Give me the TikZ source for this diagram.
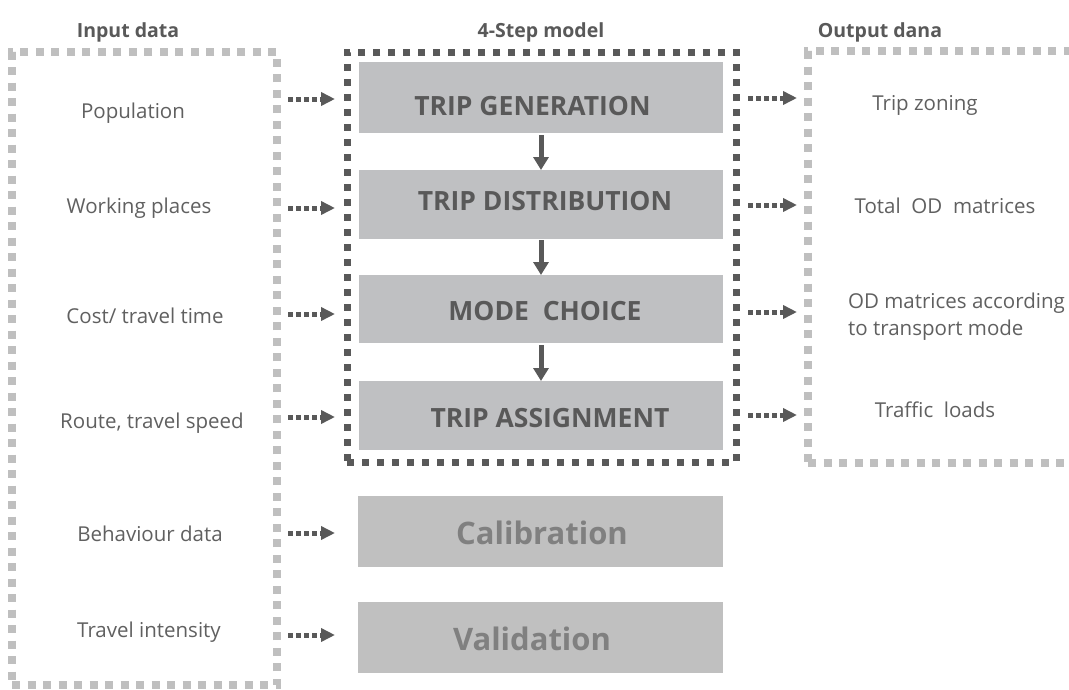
\documentclass[tikz,border=0pt]{standalone}
\usepackage{fontspec}
\setmainfont{Open Sans}
\usetikzlibrary{arrows.meta}
\definecolor{lightdot}{HTML}{BFBFBF}
\definecolor{darkdot}{HTML}{595959}
\definecolor{boxfill}{HTML}{BFC0C2}
\definecolor{calfill}{HTML}{C0C0C0}
\definecolor{txt}{HTML}{606060}
\definecolor{boldtxt}{HTML}{595959}
\definecolor{caltxt}{HTML}{808080}
\begin{document}
\begin{tikzpicture}[x=1pt,y=-1pt,
  lightframe/.style={draw=lightdot, line width=8pt, dash pattern=on 8pt off 7.5pt, fill=none, inner sep=0pt, outer sep=0pt},
  darkframe/.style={draw=darkdot, line width=7pt, dash pattern=on 7pt off 8pt, fill=none, inner sep=0pt, outer sep=0pt},
  stepbox/.style={fill=boxfill, draw=none, minimum width=364pt, minimum height=70pt, inner sep=0pt, outer sep=0pt},
  calbox/.style={fill=calfill, draw=none, minimum width=365pt, minimum height=71pt, inner sep=0pt, outer sep=0pt},
  title/.style={anchor=base, text=boldtxt, font=\fontsize{19.5}{23}\selectfont\bfseries, inner sep=0pt},
  item/.style={anchor=base, text=txt, font=\fontsize{20.5}{25}\selectfont, inner sep=0pt},
  steptext/.style={anchor=base, text=boldtxt, font=\fontsize{26.5}{30}\selectfont\bfseries, inner sep=0pt},
  caltext/.style={anchor=base, text=caltxt, font=\fontsize{31}{36}\selectfont\bfseries, inner sep=0pt},
  dotarrow/.style={draw=darkdot, line width=5pt, dash pattern=on 5pt off 3pt, -{Triangle[length=14pt,width=13pt]}},
  downarrow/.style={draw=darkdot, line width=5pt, -{Triangle[length=13pt,width=15pt]}}
]
\useasboundingbox (0,0) rectangle (1069,689);
\fill[white] (0,0) rectangle (1069,689);
\clip (0,0) rectangle (1069,689);

% titles
\node[title] (tin) at (128,37) {Input data};
\node[title] (tmod) at (541,37) {4-Step model};
\node[title] (tout) at (880,37) {Output dana};

% frames
\node[lightframe, minimum width=265pt, minimum height=633pt] (inbox) at (144.5,368.5) {};
\node[darkframe, minimum width=389pt, minimum height=410pt] (modbox) at (541.5,257) {};
\node[lightframe, minimum width=290pt, minimum height=412pt] (outbox) at (953,257) {};

% step boxes
\node[stepbox, minimum height=71pt] (tg) at (541,97.5) {};
\node[stepbox, minimum height=69pt] (td) at (541,204.5) {};
\node[stepbox, minimum height=68pt] (mc) at (541,309) {};
\node[stepbox, minimum height=69pt] (ta) at (541,415.5) {};
\node[calbox] (cal) at (540.5,531.5) {};
\node[calbox] (val) at (540.5,637.5) {};

\node[steptext] (tgt) at (532.5,115) {TRIP GENERATION};
\node[steptext] (tdt) at (545,210) {TRIP DISTRIBUTION};
\node[steptext] (mct) at (545,320) {MODE\ \ CHOICE};
\node[steptext] (tat) at (550,427) {TRIP ASSIGNMENT};
\node[caltext] (calt) at (542,544) {Calibration};
\node[caltext] (valt) at (532,650) {Validation};

% down arrows
\draw[downarrow, shorten <=2pt] (tg.south) -- (td.north);
\draw[downarrow, shorten <=1pt] (td.south) -- (mc.north);
\draw[downarrow, shorten <=2pt] (mc.south) -- (ta.north);

% input items
\node[item] (i1) at (133,118) {Population};
\node[item] (i2) at (139,213) {Working places};
\node[item] (i3) at (145,323) {Cost/ travel time};
\node[item] (i4) at (152,428) {Route, travel speed};
\node[item] (i5) at (150,541) {Behaviour data};
\node[item] (i6) at (149,637) {Travel intensity};

% output items
\node[item] (o1) at (925,110) {Trip zoning};
\node[item] (o2) at (945,213) {Total\ \ OD\ \ matrices};
\node[item, anchor=base west] (o3) at (848,308) {OD matrices according};
\node[item, anchor=base west] (o3b) at (848,335) {to transport mode};
\node[item] (o4) at (935,417) {Traffic\ \ loads};

% input arrows
\foreach \n/\y in {1/99, 2/208, 3/314, 4/417, 5/533, 6/635}{
  \coordinate (ls\n) at (288,\y);
  \coordinate (le\n) at (335,\y);
  \draw[dotarrow] (ls\n) -- (le\n);
}
% output arrows
\foreach \n/\y in {1/98, 2/205, 3/312, 4/415}{
  \coordinate (rs\n) at (748,\y);
  \coordinate (re\n) at (797,\y);
  \draw[dotarrow] (rs\n) -- (re\n);
}
\end{tikzpicture}
\end{document}
